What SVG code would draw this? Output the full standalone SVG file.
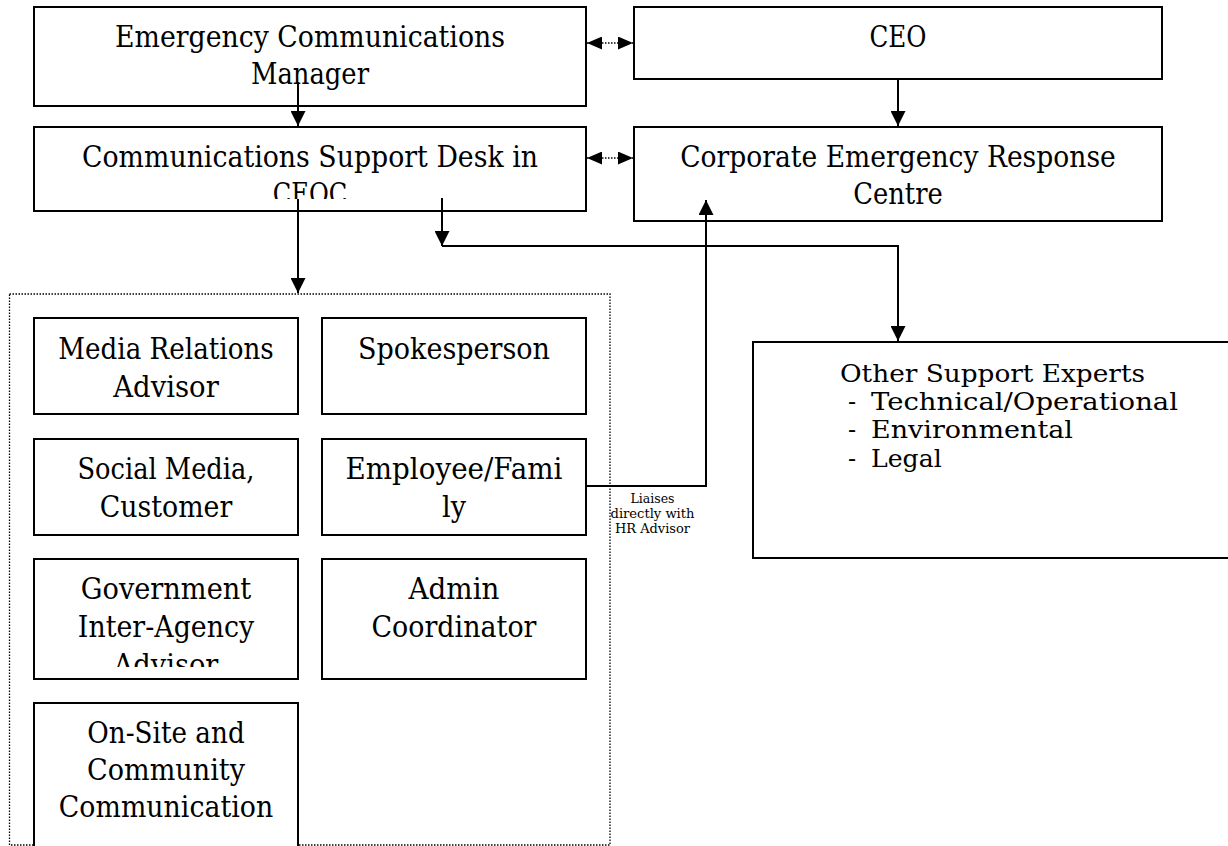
<svg xmlns="http://www.w3.org/2000/svg" width="1228" height="846" viewBox="0 0 1228 846">
<style>
.box{fill:#fff;stroke:#000;stroke-width:2}
.t{font-family:"DejaVu Serif","Liberation Serif",serif;font-size:29px;fill:#000;text-anchor:middle}
.r{font-family:"DejaVu Serif","Liberation Serif",serif;font-size:24px;fill:#000}
.s{font-family:"DejaVu Serif","Liberation Serif",serif;font-size:12px;fill:#000;text-anchor:middle}
.c{fill:none;stroke:#000;stroke-width:2}
.d{fill:none;stroke:#000;stroke-width:1.3;stroke-dasharray:1.5 1.5}
</style>
<defs>
<marker id="ah" viewBox="0 0 10 10" refX="10" refY="5" markerWidth="15" markerHeight="15" markerUnits="userSpaceOnUse" orient="auto"><path d="M0,0 L10,5 L0,10 z" fill="#000"/></marker>
<marker id="dh" viewBox="0 0 10 10" refX="10" refY="5" markerWidth="15" markerHeight="13" markerUnits="userSpaceOnUse" orient="auto-start-reverse" preserveAspectRatio="none"><path d="M0,0 L10,5 L0,10 z" fill="#000"/></marker>
<clipPath id="clipCSD"><rect x="34" y="127" width="552" height="72"/></clipPath>
<clipPath id="clipGov"><rect x="34" y="559" width="264" height="108"/></clipPath>
</defs>
<rect width="1228" height="846" fill="#fff"/>

<g id="container">
<rect x="9.5" y="294" width="600.5" height="551" fill="none" stroke="#000" stroke-width="1.3" stroke-dasharray="1.5 1.5"/>
</g>

<g id="ecm">
<rect class="box" x="34" y="7" width="552" height="99"/>
<text class="t" x="310" y="47" textLength="390" lengthAdjust="spacingAndGlyphs">Emergency Communications</text>
<text class="t" x="310" y="84" textLength="118" lengthAdjust="spacingAndGlyphs">Manager</text>
</g>
<g id="ceo">
<rect class="box" x="634" y="7" width="528" height="72"/>
<text class="t" x="898" y="47" textLength="57" lengthAdjust="spacingAndGlyphs">CEO</text>
</g>
<g id="csd">
<rect class="box" x="34" y="127" width="552" height="84"/>
<g clip-path="url(#clipCSD)">
<text class="t" x="310" y="167" textLength="456" lengthAdjust="spacingAndGlyphs">Communications Support Desk in</text>
<text class="t" x="310" y="204" textLength="74.5" lengthAdjust="spacingAndGlyphs">CEOC</text>
</g>
</g>
<g id="cerc">
<rect class="box" x="634" y="127" width="528" height="94"/>
<text class="t" x="898" y="167" textLength="435.5" lengthAdjust="spacingAndGlyphs">Corporate Emergency Response</text>
<text class="t" x="898" y="204" textLength="89.5" lengthAdjust="spacingAndGlyphs">Centre</text>
</g>
<g id="media">
<rect class="box" x="34" y="318" width="264" height="96"/>
<text class="t" x="166" y="359" textLength="215.5" lengthAdjust="spacingAndGlyphs">Media Relations</text>
<text class="t" x="166" y="397" textLength="105.6" lengthAdjust="spacingAndGlyphs">Advisor</text>
</g>
<g id="spokes">
<rect class="box" x="322" y="318" width="264" height="96"/>
<text class="t" x="454" y="359" textLength="192" lengthAdjust="spacingAndGlyphs">Spokesperson</text>
</g>
<g id="social">
<rect class="box" x="34" y="439" width="264" height="96"/>
<text class="t" x="166" y="479" textLength="177" lengthAdjust="spacingAndGlyphs">Social Media,</text>
<text class="t" x="166" y="517" textLength="132.5" lengthAdjust="spacingAndGlyphs">Customer</text>
</g>
<g id="employee">
<rect class="box" x="322" y="439" width="264" height="96"/>
<text class="t" x="454" y="479" textLength="217" lengthAdjust="spacingAndGlyphs">Employee/Fami</text>
<text class="t" x="454" y="517" textLength="24" lengthAdjust="spacingAndGlyphs">ly</text>
</g>
<g id="government">
<rect class="box" x="34" y="559" width="264" height="120"/>
<g clip-path="url(#clipGov)">
<text class="t" x="166" y="599" textLength="170.4" lengthAdjust="spacingAndGlyphs">Government</text>
<text class="t" x="166" y="637" textLength="176.3" lengthAdjust="spacingAndGlyphs">Inter-Agency</text>
<text class="t" x="166" y="675" textLength="104.8" lengthAdjust="spacingAndGlyphs">Advisor</text>
</g>
</g>
<g id="admin">
<rect class="box" x="322" y="559" width="264" height="120"/>
<text class="t" x="454" y="599" textLength="91" lengthAdjust="spacingAndGlyphs">Admin</text>
<text class="t" x="454" y="637" textLength="165" lengthAdjust="spacingAndGlyphs">Coordinator</text>
</g>
<g id="onsite">
<rect class="box" x="34" y="703" width="264" height="160"/>
<text class="t" x="166" y="743" textLength="157.4" lengthAdjust="spacingAndGlyphs">On-Site and</text>
<text class="t" x="166" y="780" textLength="158" lengthAdjust="spacingAndGlyphs">Community</text>
<text class="t" x="166" y="817" textLength="214.3" lengthAdjust="spacingAndGlyphs">Communication</text>
</g>
<g id="other">
<rect class="box" x="753" y="342" width="490" height="216"/>
<text class="r" x="840" y="382" textLength="305" lengthAdjust="spacingAndGlyphs">Other Support Experts</text>
<text class="r" y="410"><tspan x="848">-</tspan><tspan x="871" textLength="307" lengthAdjust="spacingAndGlyphs">Technical/Operational</tspan></text>
<text class="r" y="438"><tspan x="848">-</tspan><tspan x="871" textLength="202" lengthAdjust="spacingAndGlyphs">Environmental</tspan></text>
<text class="r" y="467"><tspan x="848">-</tspan><tspan x="871" textLength="70.7" lengthAdjust="spacingAndGlyphs">Legal</tspan></text>
</g>

<g id="connectors">
<path class="c" d="M298,82 V126" marker-end="url(#ah)"/>
<path class="c" d="M298,199 V293" marker-end="url(#ah)"/>
<path class="c" d="M442,198 V246" marker-end="url(#ah)"/>
<path class="c" d="M442,246 H898 V341" marker-end="url(#ah)"/>
<path class="c" d="M898,79 V126" marker-end="url(#ah)"/>
<path class="c" d="M586,486 H706 V200" marker-end="url(#ah)"/>
<path class="d" d="M587,43 H633" marker-start="url(#dh)" marker-end="url(#dh)"/>
<path class="d" d="M587,158 H633" marker-start="url(#dh)" marker-end="url(#dh)"/>
<g id="label">
<text class="s" x="652.5" y="503" textLength="44" lengthAdjust="spacingAndGlyphs">Liaises</text>
<text class="s" x="652.5" y="518" textLength="84" lengthAdjust="spacingAndGlyphs">directly with</text>
<text class="s" x="652.5" y="533" textLength="75" lengthAdjust="spacingAndGlyphs">HR Advisor</text>
</g>
</g>
</svg>
